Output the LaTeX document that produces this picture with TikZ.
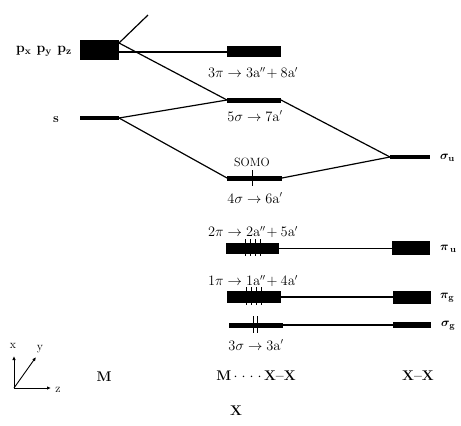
\documentclass[tikz,border=0pt]{standalone}
\usetikzlibrary{arrows.meta}
\begin{document}
\begin{tikzpicture}[x=1pt,y=-1pt,
  lvl/.style={draw=none,fill=black,inner sep=0pt,outer sep=0pt,rectangle},
  conn/.style={line width=1.2pt},
  tick/.style={line width=0.9pt},
  lab/.style={font=\fontsize{13.5}{15}\selectfont,inner sep=1pt},
  blab/.style={font=\fontsize{13}{15}\selectfont\bfseries\boldmath,inner sep=1pt},
  big/.style={font=\fontsize{14}{16}\selectfont\bfseries,inner sep=1pt},
  axis/.style={line width=0.9pt,-{Latex[length=4pt,width=3.5pt]}}]
\useasboundingbox (0,0) rectangle (461,426);
% M levels
\node[lvl,minimum width=39pt,minimum height=20pt] (p) at (99.5,50) {};
\node[lvl,minimum width=39pt,minimum height=4pt] (s) at (99.5,118) {};
% complex levels
\node[lvl,minimum width=54pt,minimum height=11pt] (pi3) at (254,51.5) {};
\node[lvl,minimum width=54pt,minimum height=5pt] (sig5) at (254,100) {};
\node[lvl,minimum width=55pt,minimum height=5pt] (sig4) at (254.5,178) {};
\node[lvl,minimum width=53pt,minimum height=11pt] (pi2) at (252.5,248.5) {};
\node[lvl,minimum width=54pt,minimum height=12pt] (pi1) at (254,297) {};
\node[lvl,minimum width=54pt,minimum height=5pt] (sig3) at (256,325) {};
% X-X levels
\node[lvl,minimum width=40pt,minimum height=4pt] (su) at (410,157) {};
\node[lvl,minimum width=38pt,minimum height=14pt] (pu) at (411,248) {};
\node[lvl,minimum width=38pt,minimum height=13pt] (pg) at (412,297.5) {};
\node[lvl,minimum width=38pt,minimum height=6pt] (sg) at (412,325) {};
% connectors
\coordinate (up) at (148,15);
\draw[conn] ([yshift=-3pt]p.north east) -- (up);
\draw[conn] ([yshift=-2pt]p.east) -- (pi3.west |- 0,52);
\draw[conn] ([yshift=-3pt]p.north east) -- (sig5.west);
\draw[conn] (s.east) -- (sig5.west);
\draw[conn] (s.east) -- (sig4.west);
\draw[conn] (sig5.east) -- (su.west);
\draw[conn] (sig4.east) -- (su.west);
\draw[conn] (pi2.east) -- (pu.west |- pi2.east);
\draw[conn] (pi1.east) -- (pg.west |- pi1.east);
\draw[conn] (sig3.east) -- (sg.west);
% electron ticks
\foreach \x in {245,250,255,260} \draw[tick] (\x,239) -- (\x,256);
\foreach \x in {246,251,256,261} \draw[tick] (\x,287) -- (\x,305);
\draw[tick] (252,170) -- (252,186);
\foreach \x in {253,257} \draw[tick] (\x,316) -- (\x,333);
% labels
\node[blab,anchor=east,font=\fontsize{14}{16}\selectfont\bfseries\boldmath] (lp) at (73,51) {p$_{\mathbf{x}}$ p$_{\mathbf{y}}$ p$_{\mathbf{z}}$};
\node[blab] (ls) at (56,120) {s};
\node[lab] (l3pi) at (253,73) {$3\pi\rightarrow3\mathrm{a}''\!+8\mathrm{a}'$};
\node[lab] (l5s) at (255,116) {$5\sigma\rightarrow7\mathrm{a}'$};
\node[lab,font=\fontsize{12}{13}\selectfont] (lsomo) at (252,162) {SOMO};
\node[lab] (l4s) at (255,198) {$4\sigma\rightarrow6\mathrm{a}'$};
\node[lab] (l2pi) at (253,232) {$2\pi\rightarrow2\mathrm{a}''\!+5\mathrm{a}'$};
\node[lab] (l1pi) at (253,281) {$1\pi\rightarrow1\mathrm{a}''\!+4\mathrm{a}'$};
\node[lab] (l3s) at (256,345) {$3\sigma\rightarrow3\mathrm{a}'$};
\node[blab,anchor=west] (lsu) at (439,158) {$\sigma_{\mathbf{u}}$};
\node[blab,anchor=west] (lpu) at (439,249) {$\pi_{\,\mathbf{u}}$};
\node[blab,anchor=west] (lpg) at (439,298) {$\pi_{\mathbf{g}}$};
\node[blab,anchor=west] (lsg) at (440,326) {$\sigma_{\mathbf{g}}$};
% axes
\coordinate (o) at (14,388);
\coordinate (ax) at (14,356);
\coordinate (ay) at (36,357);
\coordinate (az) at (51,388);
\draw[axis] (o) -- (ax);
\draw[axis] (o) -- (ay);
\draw[axis] (o) -- (az);
\node[lab,font=\fontsize{12}{14}\selectfont] (tx) at (13,346) {x};
\node[lab,font=\fontsize{12}{14}\selectfont] (ty) at (40,349) {y};
\node[lab,font=\fontsize{12}{14}\selectfont] (tz) at (58,390) {z};
% bottom labels
\node[big] (bM) at (104,377) {M};
\node[big] (bMXX) at (256,376) {M$\mkern3mu{\cdot}\mkern5mu{\cdot}\mkern5mu{\cdot}\mkern5mu{\cdot}\mkern3mu$X--X};
\node[big] (bXX) at (418,376) {X--X};
\node[big] (bX) at (236,411) {X};
\end{tikzpicture}
\end{document}
